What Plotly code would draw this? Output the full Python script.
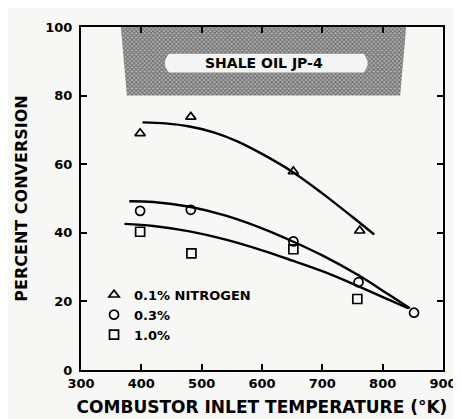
import plotly.graph_objects as go

# Measured data points
tri_x = [398, 482, 652, 762]
tri_y = [69, 73.8, 57.9, 40.6]
cir_x = [398, 482, 652, 760, 852]
cir_y = [46.4, 46.7, 37.5, 25.6, 16.7]
sq_x = [398, 483, 652, 758]
sq_y = [40.3, 34.0, 35.2, 20.7]

# Hand-drawn fit curves
tri_fit_x = [402, 440, 480, 520, 560, 600, 652, 700, 750, 786]
tri_fit_y = [72.2, 71.9, 71.0, 69.3, 66.6, 63.0, 57.6, 51.5, 44.6, 39.5]
cir_fit_x = [380, 420, 480, 540, 600, 652, 700, 760, 810, 845]
cir_fit_y = [49.2, 49.0, 47.6, 45.0, 41.3, 37.4, 33.4, 27.6, 22.0, 18.0]
sq_fit_x = [372, 420, 480, 540, 600, 652, 700, 760, 810, 842]
sq_fit_y = [42.6, 42.0, 40.4, 38.0, 34.9, 31.8, 28.8, 24.4, 20.5, 18.0]

legend_names = ["0.1% NITROGEN", "0.3%", "1.0%"]
x_ticks = [300, 400, 500, 600, 700, 800, 900]
y_ticks = [0, 20, 40, 60, 80, 100]

FONT = "DejaVu Sans"
fig = go.Figure()

# Hatched title panel
fig.add_trace(go.Scatter(
    x=[366, 839, 829, 376, 366], y=[100, 100, 80, 80, 100],
    mode="lines", fill="toself", line=dict(width=0, color="rgba(0,0,0,0)"),
    fillcolor="white",
    fillpattern=dict(shape="x", fgcolor="#222", bgcolor="#b0b0b0", size=3, solidity=0.5),
    hoverinfo="skip", showlegend=False))

fig.add_shape(type="path",
              path="M 446,86.7 L 768,86.7 Q 782,89.45 768,92.2 L 446,92.2 Q 432,89.45 446,86.7 Z",
              xref="x", yref="y", fillcolor="#f4f4f4", line=dict(width=0), layer="above")
fig.add_annotation(x=604, y=89.5, text="<b>SHALE OIL JP-4</b>", showarrow=False,
                   font=dict(family=FONT, size=14, color="black"))

line_style = dict(color="black", width=2.4)
for fx, fy in [(tri_fit_x, tri_fit_y), (cir_fit_x, cir_fit_y), (sq_fit_x, sq_fit_y)]:
    fig.add_trace(go.Scatter(x=fx, y=fy, mode="lines", line_shape="spline",
                             line=line_style, showlegend=False, hoverinfo="skip"))

mk = dict(color="black", size=9, line=dict(color="black", width=1.7))
for xs, ys, sym, name in [(tri_x, tri_y, "triangle-up-open", legend_names[0]),
                          (cir_x, cir_y, "circle-open", legend_names[1]),
                          (sq_x, sq_y, "square-open", legend_names[2])]:
    fig.add_trace(go.Scatter(x=xs, y=ys, mode="markers", name=name,
                             marker=dict(symbol=sym, **mk)))

axis_common = dict(showline=True, linecolor="black", linewidth=2, mirror="ticks",
                   ticks="inside", ticklen=6, tickwidth=2, tickcolor="black",
                   showgrid=False, zeroline=False,
                   tickfont=dict(family=FONT, size=13, color="black", weight="bold"))

fig.update_xaxes(range=[300, 900], tickvals=x_ticks, **axis_common,
                 title=dict(text="COMBUSTOR INLET TEMPERATURE (°K)", standoff=12,
                            font=dict(family=FONT, size=17, color="black", weight="bold")))
fig.update_yaxes(range=[0, 100], tickvals=y_ticks, ticklabelstandoff=4, **axis_common,
                 title=dict(text="PERCENT CONVERSION", standoff=14,
                            font=dict(family=FONT, size=16, color="black", weight="bold")))

fig.update_layout(
    width=461, height=419,
    margin=dict(l=73, r=17, t=16, b=57),
    paper_bgcolor="#f7f7f5", plot_bgcolor="#f7f7f5",
    legend=dict(x=0.036, y=0.263, xanchor="left", yanchor="top",
                bgcolor="rgba(0,0,0,0)", tracegroupgap=0, itemwidth=30,
                font=dict(family=FONT, size=13, color="black", weight="bold")),
)

fig.write_html("out.html")
